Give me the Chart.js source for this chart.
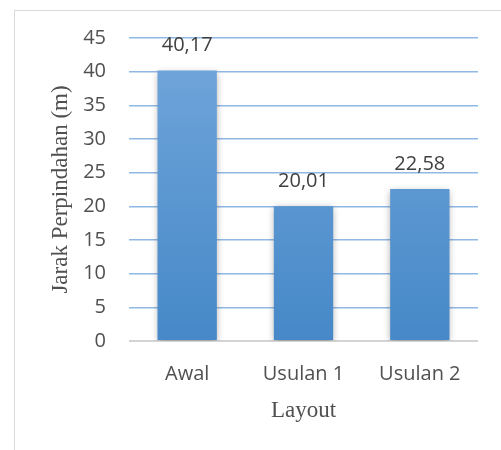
<!DOCTYPE html>
<html>
<head>
<meta charset="utf-8">
<script src="https://cdn.jsdelivr.net/npm/chart.js@4"></script>
<style>
    body{margin:0;background:#fff;}
    #wrap{position:relative;width:501px;height:450px;overflow:hidden;}
    #frame{position:absolute;left:14px;top:10px;width:600px;height:600px;border:1px solid #d9d9d9;box-sizing:border-box;}
    #chart{position:absolute;left:0;top:0;}
</style>
</head>
<body>
<div id="wrap">
    <div id="frame"></div>
    <canvas id="chart" width="501" height="450"></canvas>
</div>
<script>
const categories = ['Awal', 'Usulan 1', 'Usulan 2'];
const jarak = [40.17, 20.01, 22.58];
const yTicks = [0, 5, 10, 15, 20, 25, 30, 35, 40, 45];

const textColor = '#505050';

function barGradient(context){
    const area = context.chart.chartArea;
    if(!area) return '#5b9bd5';
    const g = context.chart.ctx.createLinearGradient(0, area.top, 0, area.bottom);
    g.addColorStop(0, '#72a7db');
    g.addColorStop(1, '#4688c8');
    return g;
}

const barShadow = {
    id:'barShadow',
    beforeDatasetsDraw(chart){
        const ctx = chart.ctx;
        ctx.save();
        ctx.shadowColor = 'rgba(0,0,0,0.35)';
        ctx.shadowBlur = 7;
        ctx.shadowOffsetY = 2;
    },
    afterDatasetsDraw(chart){
        chart.ctx.restore();
    }
};

const valueLabels = {
    id:'valueLabels',
    afterDraw(chart){
        const ctx = chart.ctx;
        ctx.save();
        ctx.font = '20px "Open Sans"';
        ctx.fillStyle = '#404040';
        ctx.textAlign = 'center';
        ctx.textBaseline = 'middle';
        chart.getDatasetMeta(0).data.forEach((bar, i)=>{
            ctx.fillText(String(jarak[i]).replace('.', ','), bar.x, bar.y - 25);
        });
        ctx.restore();
    }
};

new Chart(document.getElementById('chart'), {
    type:'bar',
    data:{
        labels:categories,
        datasets:[{data:jarak, backgroundColor:barGradient, borderWidth:0,
            categoryPercentage:1, barPercentage:0.51}]
    },
    options:{
        responsive:false,
        animation:false,
        layout:{padding:{left:0, top:38, right:23, bottom:0}},
        plugins:{legend:{display:false}, tooltip:{enabled:false}},
        scales:{
            x:{
                grid:{display:false},
                border:{display:false},
                ticks:{color:textColor, font:{family:'"Open Sans"', size:20}, padding:13},
                title:{display:true, text:'Layout', color:textColor,
                    font:{family:'"Liberation Serif"', size:23}, padding:{top:0, bottom:25}},
                afterFit(scale){ scale.height = 109; }
            },
            y:{
                min:0, max:45,
                afterBuildTicks(scale){ scale.ticks = yTicks.map(v=>({value:v})); },
                grid:{drawTicks:false, lineWidth:c=>c.tick && c.tick.value===0 ? 2 : 1.5,
                    color:c=>c.tick && c.tick.value===0 ? '#d4d4d4' : '#8fb8e4'},
                border:{display:false},
                ticks:{color:textColor, font:{family:'"Open Sans"', size:20}, padding:23},
                title:{display:true, text:'Jarak Perpindahan (m)', color:textColor,
                    font:{family:'"Liberation Serif"', size:23}, padding:{top:47, bottom:0}},
                afterFit(scale){ scale.width = 129; }
            }
        }
    },
    plugins:[barShadow, valueLabels]
});
</script>
</body>
</html>
